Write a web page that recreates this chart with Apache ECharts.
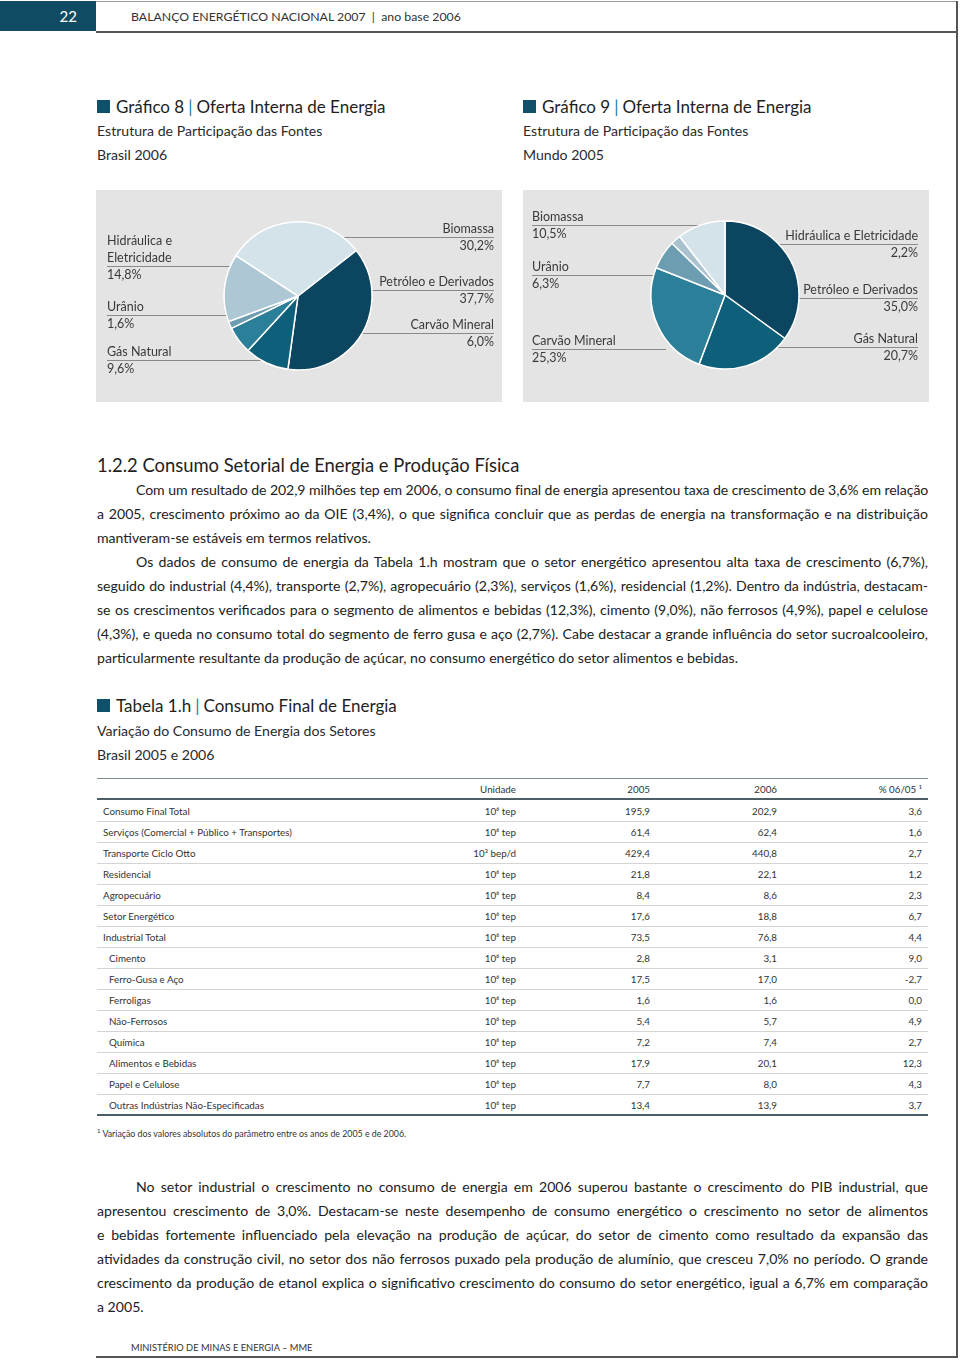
<!DOCTYPE html>
<html><head><meta charset="utf-8">
<script src="https://cdn.jsdelivr.net/npm/echarts@6/dist/echarts.min.js"></script>
<style>
body{margin:0;width:960px;height:1360px;position:relative;font-family:Lato,'Open Sans',sans-serif;color:#262626;background:#fff;overflow:hidden}
.a{position:absolute;white-space:nowrap}
.sq{position:absolute;width:13px;height:13px;background:#11506b}
.ttl{font-size:17px;line-height:22px;color:#1e1e1e}
.ttl .bar{color:#1a7aa3;padding:0 4px}
.sub{font-size:14.1px;line-height:20px;color:#2a2a2a}
.ln{position:absolute;font-size:14.1px;line-height:20px;color:#222;white-space:nowrap}
.row{position:absolute;left:97px;width:831px;height:21px;font-size:9.8px;line-height:21px;color:#333;border-bottom:1px solid #d4d4d4;box-sizing:border-box}
.row span{position:absolute;top:0;white-space:nowrap}
.panel{position:absolute;top:190px;height:212px;width:406px;background:#e4e4e4}
</style></head><body>
<!-- header -->
<div class="a" style="left:0;top:1px;width:96px;height:30px;background:#0f4b63"></div>
<div class="a" style="left:0;top:1px;width:96px;line-height:30px;font-size:15px;color:#fff;text-align:right;padding-right:19px;box-sizing:border-box">22</div>
<div class="a" style="left:96px;top:1px;width:861px;height:1px;background:#9a9a9a"></div>
<div class="a" style="left:96px;top:31px;width:861px;height:2px;background:#555"></div>
<div class="a" style="left:956px;top:1px;width:2px;height:1357px;background:#555"></div>
<div class="a" style="left:96px;top:1356px;width:862px;height:2px;background:#555"></div>
<div class="a" style="left:131px;top:8px;font-size:12.3px;line-height:18px;color:#333">BALANÇO ENERGÉTICO NACIONAL 2007 &nbsp;|&nbsp; ano base 2006</div>
<div class="a" style="left:131px;top:1341px;font-size:9.3px;line-height:14px;color:#333">MINISTÉRIO DE MINAS E ENERGIA – MME</div>

<!-- chart titles -->
<div class="sq" style="left:97px;top:100px"></div>
<div class="a ttl" style="left:116px;top:96px">Gráfico 8<span class="bar">|</span>Oferta Interna de Energia</div>
<div class="a sub" style="left:97px;top:121px">Estrutura de Participação das Fontes</div>
<div class="a sub" style="left:97px;top:145px">Brasil 2006</div>
<div class="sq" style="left:523px;top:100px"></div>
<div class="a ttl" style="left:542px;top:96px">Gráfico 9<span class="bar">|</span>Oferta Interna de Energia</div>
<div class="a sub" style="left:523px;top:121px">Estrutura de Participação das Fontes</div>
<div class="a sub" style="left:523px;top:145px">Mundo 2005</div>

<div class="panel" style="left:96px"></div>
<div class="panel" style="left:523px"></div>
<div id="chart" style="position:absolute;left:96px;top:190px;width:833px;height:212px"></div>

<!-- section text -->
<div class="a" style="left:97px;top:453px;font-size:18.4px;line-height:24px;color:#1e1e1e">1.2.2 Consumo Setorial de Energia e Produção Física</div>
<div id="para1"></div>

<div class="sq" style="left:97px;top:699px"></div>
<div class="a ttl" style="left:116px;top:695px">Tabela 1.h<span class="bar">|</span>Consumo Final de Energia</div>
<div class="a sub" style="left:97px;top:721px">Variação do Consumo de Energia dos Setores</div>
<div class="a sub" style="left:97px;top:745px">Brasil 2005 e 2006</div>

<div id="table"></div>
<div class="a" style="left:97px;top:1125px;font-size:8.8px;line-height:12px;color:#333"><sup style="font-size:6px">1</sup> Variação dos valores absolutos do parâmetro entre os anos de 2005 e de 2006.</div>
<div id="para2"></div>

<script>
// ---------- data ----------
const sources = ['Petróleo e Derivados', 'Gás Natural', 'Carvão Mineral', 'Urânio', 'Hidráulica e Eletricidade', 'Biomassa'];
const brasil2006 = [37.7, 9.6, 6.0, 1.6, 14.8, 30.2];
const mundo2005 = [35.0, 20.7, 25.3, 6.3, 2.2, 10.5];

const tableRows = ['Consumo Final Total', 'Serviços (Comercial + Público + Transportes)', 'Transporte Ciclo Otto', 'Residencial', 'Agropecuário', 'Setor Energético', 'Industrial Total', 'Cimento', 'Ferro-Gusa e Aço', 'Ferroligas', 'Não-Ferrosos', 'Química', 'Alimentos e Bebidas', 'Papel e Celulose', 'Outras Indústrias Não-Especificadas'];
const tableUnits = ['10⁶ tep', '10⁶ tep', '10³ bep/d', '10⁶ tep', '10⁶ tep', '10⁶ tep', '10⁶ tep', '10⁶ tep', '10⁶ tep', '10⁶ tep', '10⁶ tep', '10⁶ tep', '10⁶ tep', '10⁶ tep', '10⁶ tep'];
const values2005 = [195.9, 61.4, 429.4, 21.8, 8.4, 17.6, 73.5, 2.8, 17.5, 1.6, 5.4, 7.2, 17.9, 7.7, 13.4];
const values2006 = [202.9, 62.4, 440.8, 22.1, 8.6, 18.8, 76.8, 3.1, 17.0, 1.6, 5.7, 7.4, 20.1, 8.0, 13.9];
const change0605 = [3.6, 1.6, 2.7, 1.2, 2.3, 6.7, 4.4, 9.0, -2.7, 0.0, 4.9, 2.7, 12.3, 4.3, 3.7];
const subItem = [0, 0, 0, 0, 0, 0, 0, 1, 1, 1, 1, 1, 1, 1, 1];
const tableHeader = ['Unidade', '2005', '2006', '% 06/05 ¹'];

const para1Lines = [
 'Com um resultado de 202,9 milhões tep em 2006, o consumo final de energia apresentou taxa de crescimento de 3,6% em relação',
 'a 2005, crescimento próximo ao da OIE (3,4%), o que significa concluir que as perdas de energia na transformação e na distribuição',
 'mantiveram-se estáveis em termos relativos.',
 'Os dados de consumo de energia da Tabela 1.h mostram que o setor energético apresentou alta taxa de crescimento (6,7%),',
 'seguido do industrial (4,4%), transporte (2,7%), agropecuário (2,3%), serviços (1,6%), residencial (1,2%). Dentro da indústria, destacam-',
 'se os crescimentos verificados para o segmento de alimentos e bebidas (12,3%), cimento (9,0%), não ferrosos (4,9%), papel e celulose',
 '(4,3%), e queda no consumo total do segmento de ferro gusa e aço (2,7%). Cabe destacar a grande influência do setor sucroalcooleiro,',
 'particularmente resultante da produção de açúcar, no consumo energético do setor alimentos e bebidas.'
];
const para1Kind = ['i', 'j', 'l', 'i', 'j', 'j', 'j', 'l'];
const para2Lines = [
 'No setor industrial o crescimento no consumo de energia em 2006 superou bastante o crescimento do PIB industrial, que',
 'apresentou crescimento de 3,0%. Destacam-se neste desempenho de consumo energético o crescimento no setor de alimentos',
 'e bebidas fortemente influenciado pela elevação na produção de açúcar, do setor de cimento como resultado da expansão das',
 'atividades da construção civil, no setor dos não ferrosos puxado pela produção de alumínio, que cresceu 7,0% no período. O grande',
 'crescimento da produção de etanol explica o significativo crescimento do consumo do setor energético, igual a 6,7% em comparação',
 'a 2005.'
];
const para2Kind = ['i', 'j', 'j', 'j', 'j', 'l'];

// ---------- styles / layout ----------
const fmt = v => v.toFixed(1).replace('.', ',');
function drawLines(id, lines, kinds, y0) {
  const host = document.getElementById(id);
  lines.forEach((t, i) => {
    const d = document.createElement('div');
    d.className = 'ln';
    const left = (kinds[i] === 'i') ? 136 : 97;
    d.style.left = left + 'px';
    d.style.top = (y0 + 24 * i - 10) + 'px';
    const s = document.createElement('span');
    s.textContent = t;
    d.appendChild(s);
    host.appendChild(d);
    const target = 928 - left;
    const w = s.getBoundingClientRect().width;
    const spaces = (t.match(/ /g) || []).length;
    if (kinds[i] !== 'l') {
      if (w <= target) {
        s.style.wordSpacing = ((target - w) / spaces) + 'px';
      } else {
        s.style.letterSpacing = ((target - w) / t.length) + 'px';
      }
    } else if (w > target) {
      s.style.letterSpacing = ((target - w) / t.length) + 'px';
    }
  });
}
drawLines('para1', para1Lines, para1Kind, 490);
drawLines('para2', para2Lines, para2Kind, 1187);

// table
(function () {
  const host = document.getElementById('table');
  const colRight = [419, 553, 680, 825]; // right edges relative to row left (97)
  const top = document.createElement('div');
  top.className = 'a'; top.style.cssText = 'left:97px;top:778px;width:831px;height:1px;background:#7a8a90';
  host.appendChild(top);
  const hdr = document.createElement('div');
  hdr.className = 'row'; hdr.style.top = '779px'; hdr.style.borderBottom = '2px solid #4d5e66';
  tableHeader.forEach((h, c) => {
    const s = document.createElement('span');
    s.style.right = (831 - colRight[c]) + 'px'; s.textContent = h; hdr.appendChild(s);
  });
  host.appendChild(hdr);
  tableRows.forEach((name, i) => {
    const r = document.createElement('div');
    r.className = 'row';
    r.style.top = (801 + 21 * i) + 'px';
    if (i === tableRows.length - 1) r.style.borderBottom = '2px solid #4d5e66';
    const cells = [name, tableUnits[i], fmt(values2005[i]), fmt(values2006[i]), fmt(change0605[i])];
    cells.forEach((t, c) => {
      const s = document.createElement('span');
      if (c === 0) s.style.left = (subItem[i] ? 12 : 6) + 'px';
      else s.style.right = (831 - colRight[c - 1]) + 'px';
      s.textContent = t;
      r.appendChild(s);
    });
    host.appendChild(r);
  });
})();

// pies
const sliceColors = ['#0b4560', '#0e5f7a', '#2c7f98', '#6c9db1', '#adc8d4', '#d4e3ea'];
const sliceColors9 = ['#0b4560', '#0e5f7a', '#2c7f98', '#6c9db1', '#a9c2ce', '#d4e3ea'];
// label anchor: x, first-line center y, alignment, inner end of leader line
const place8 = [
  { x: 398, y: 92, align: 'right', line: 247 },
  { x: 11, y: 162, align: 'left', line: 180 },
  { x: 398, y: 135, align: 'right', line: 152 },
  { x: 11, y: 117, align: 'left', line: 152 },
  { x: 11, y: 51, align: 'left', line: 148, wrap: true },
  { x: 398, y: 39, align: 'right', line: 203 }
];
const place9 = [
  { x: 822, y: 100, align: 'right', line: 665 },
  { x: 822, y: 149, align: 'right', line: 647 },
  { x: 436, y: 151, align: 'left', line: 570 },
  { x: 436, y: 77, align: 'left', line: 597 },
  { x: 822, y: 46, align: 'right', line: 585 },
  { x: 436, y: 27, align: 'left', line: 617 }
];
const LH = 17;
function makeSeries(values, colors, center, place, startAngle) {
  return {
    type: 'pie', radius: 74, center: center, startAngle: startAngle, clockwise: true,
    avoidLabelOverlap: false, silent: true, animation: false,
    itemStyle: { borderColor: '#ffffff', borderWidth: 1.5 },
    data: sources.map((s, i) => ({ name: s, value: values[i], itemStyle: { color: colors[i] } })),
    label: {
      show: true, position: 'outside', color: '#3a3a3a', fontFamily: 'Lato', fontSize: 12.5, lineHeight: LH,
      formatter: p => {
        const pl = place[p.dataIndex];
        const nm = pl.wrap ? '{n|Hidráulica e}\n{n|Eletricidade}' : '{n|' + p.name + '}';
        return nm + '\n{n|' + fmt(p.value) + '%}';
      },
      rich: { n: { fontFamily: 'Lato', fontSize: 12.5, lineHeight: LH, color: '#3a3a3a' } }
    },
    labelLine: { show: true, length: 5, length2: 5, lineStyle: { color: '#8a8a8a', width: 1 } },
    labelLayout: p => {
      const c = place[p.dataIndex];
      const top = c.y - LH / 2;
      const ly = top + LH * (c.wrap ? 2 : 1);
      return { x: c.x, y: top, align: c.align, verticalAlign: 'top', labelLinePoints: [[c.line, ly], [c.x, ly], [c.x, ly]] };
    }
  };
}
const chart = echarts.init(document.getElementById('chart'), null, { renderer: 'canvas' });
chart.setOption({
  animation: false,
  series: [
    makeSeries(brasil2006, sliceColors, [202, 106], place8, 38),
    makeSeries(mundo2005, sliceColors9, [629, 105], place9, 90)
  ]
});
</script>
</body></html>
